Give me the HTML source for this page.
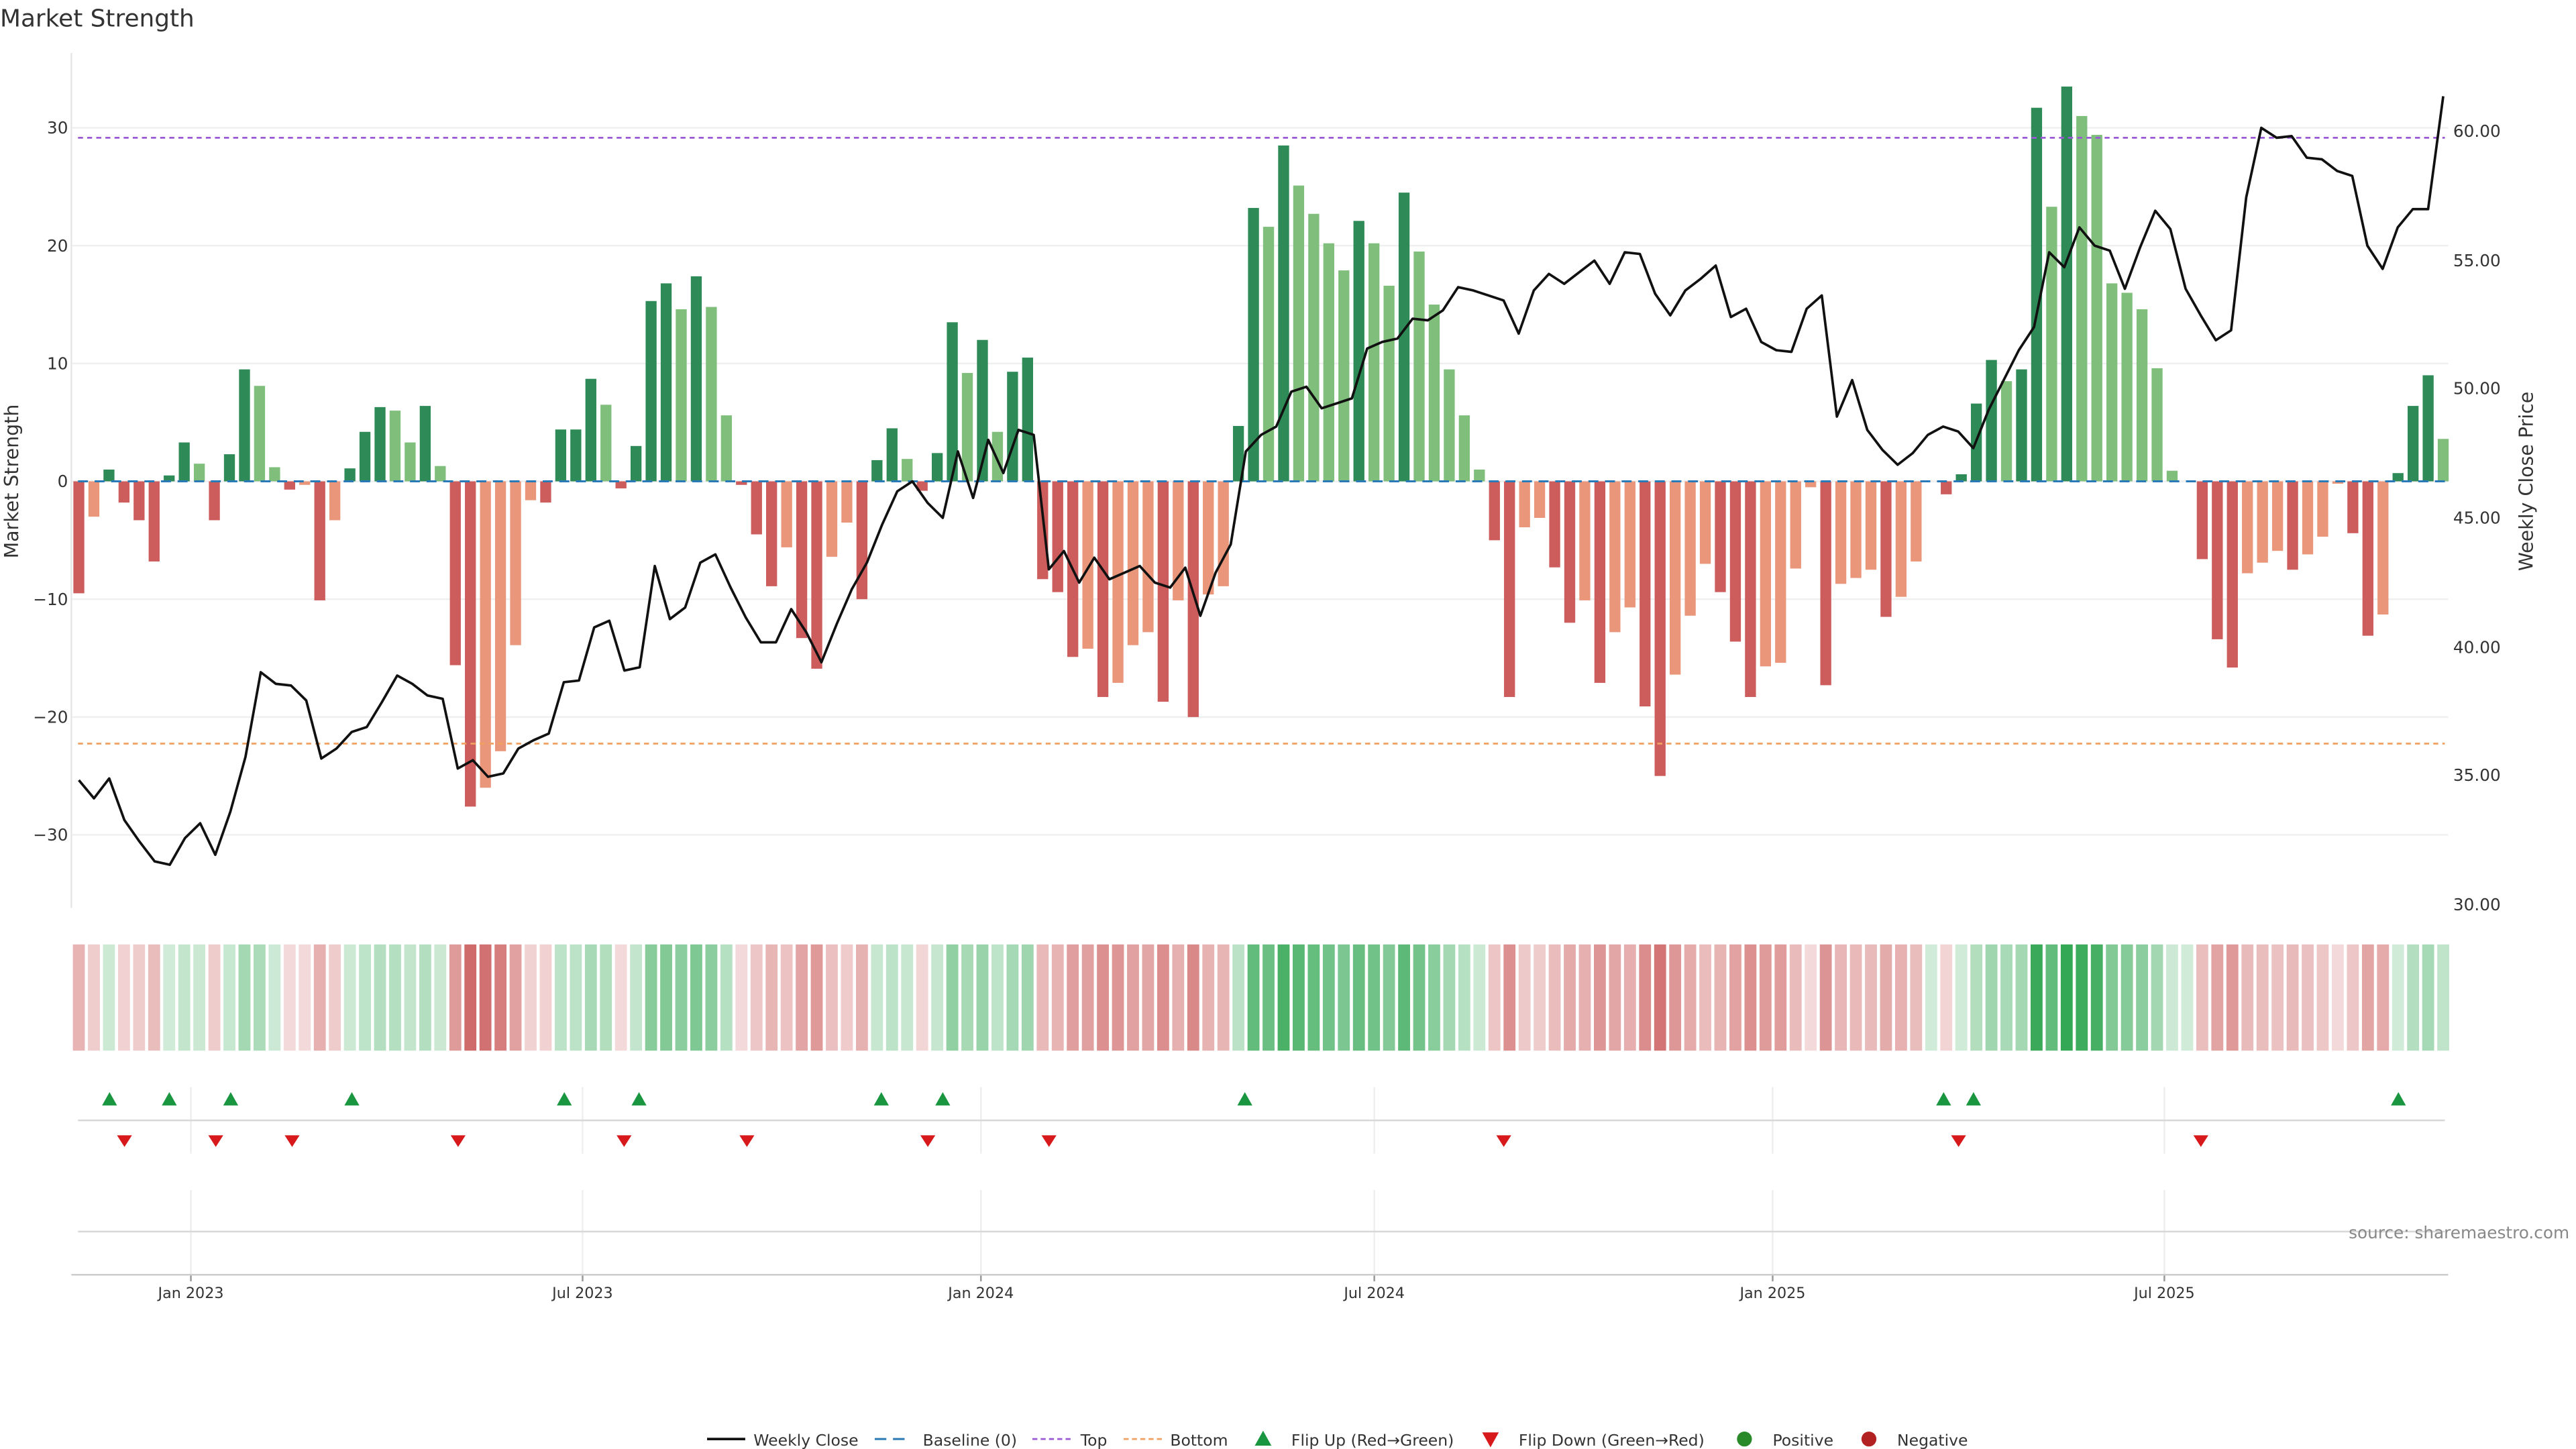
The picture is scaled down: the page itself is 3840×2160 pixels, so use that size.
<!DOCTYPE html>
<html><head><meta charset="utf-8"><style>
html,body{margin:0;padding:0;background:#fff;width:3840px;height:2160px;overflow:hidden}
svg{display:block}
text{font-family:"DejaVu Sans","Liberation Sans",sans-serif}
</style></head><body>
<svg id="s" width="3840" height="2160" viewBox="0 0 1552 873" xmlns="http://www.w3.org/2000/svg">
<rect width="1552" height="873" fill="#fff"/>
<text x="0" y="16" font-size="14.5" fill="#333">Market Strength</text>
<g id="grid"></g>
<line x1="43" y1="32" x2="43" y2="547" stroke="#e6e6e6" stroke-width="1"/>
<g id="bars"></g>
<line x1="47" y1="290" x2="1473" y2="290" stroke="#2a7ab8" stroke-width="1.2" stroke-dasharray="6,4"/>
<line x1="47" y1="83" x2="1473" y2="83" stroke="#9b59d6" stroke-width="1.1" stroke-dasharray="3,2.5"/>
<line x1="47" y1="448" x2="1473" y2="448" stroke="#f0a060" stroke-width="1.1" stroke-dasharray="3,2.5"/>
<polyline id="price" fill="none" stroke="#111" stroke-width="1.5" stroke-linejoin="round"/>
<g id="ticks" font-size="10" fill="#333"></g>
<text transform="translate(11,290) rotate(-90)" text-anchor="middle" font-size="11.5" fill="#333">Market Strength</text>
<text transform="translate(1526,290) rotate(-90)" text-anchor="middle" font-size="11.5" fill="#333">Weekly Close Price</text>
<g id="heat"></g>
<g id="mk"></g>
<line x1="47" y1="675" x2="1473" y2="675" stroke="#d8d8d8" stroke-width="1"/>
<line x1="47" y1="742" x2="1473" y2="742" stroke="#d8d8d8" stroke-width="1"/>
<line x1="43" y1="768" x2="1475" y2="768" stroke="#ccc" stroke-width="1"/>
<text x="1548" y="746" text-anchor="end" font-size="10" fill="#888">source: sharemaestro.com</text>
<g font-size="9.5" fill="#333" id="legend">
<line x1="426" y1="867" x2="449" y2="867" stroke="#111" stroke-width="1.5"/>
<text x="454" y="871">Weekly Close</text>
<line x1="527" y1="867" x2="549" y2="867" stroke="#2a7ab8" stroke-width="1.2" stroke-dasharray="7,4"/>
<text x="556" y="871">Baseline (0)</text>
<line x1="622" y1="867" x2="645" y2="867" stroke="#9b59d6" stroke-width="1.1" stroke-dasharray="3,2"/>
<text x="651" y="871">Top</text>
<line x1="677" y1="867" x2="700" y2="867" stroke="#f0a060" stroke-width="1.1" stroke-dasharray="3,2"/>
<text x="705" y="871">Bottom</text>
<polygon points="756,871 766,871 761,862" fill="#1a9641"/>
<text x="778" y="871">Flip Up (Red→Green)</text>
<polygon points="893,863 903,863 898,872" fill="#d7191c"/>
<text x="915" y="871">Flip Down (Green→Red)</text>
<circle cx="1051" cy="867" r="4.5" fill="#2a8a2a"/>
<text x="1068" y="871">Positive</text>
<circle cx="1126" cy="867" r="4.5" fill="#b22222"/>
<text x="1143" y="871">Negative</text>
</g>
</svg>
<script>
var NS="http://www.w3.org/2000/svg";
function el(p,t,a,txt){var e=document.createElementNS(NS,t);for(var k in a)e.setAttribute(k,a[k]);if(txt!=null)e.textContent=txt;document.getElementById(p).appendChild(e);return e;}
var B="-9.5R -3O 1D -1.8R -3.3R -6.8R 0.5D 3.3D 1.5L -3.3R 2.3D 9.5D 8.1L 1.2L -0.7R -0.3O -10.1R -3.3O 1.1D 4.2D 6.3D 6L 3.3L 6.4D 1.3L -15.6R -27.6R -26O -22.9O -13.9O -1.6O -1.8R 4.4D 4.4D 8.7D 6.5L -0.6R 3D 15.3D 16.8D 14.6L 17.4D 14.8L 5.6L -0.3R -4.5R -8.9R -5.6O -13.3R -15.9R -6.4O -3.5O -10R 1.8D 4.5D 1.9L -0.8R 2.4D 13.5D 9.2L 12D 4.2L 9.3D 10.5D -8.3R -9.4R -14.9R -14.2O -18.3R -17.1O -13.9O -12.8O -18.7R -10.1O -20R -9.6O -8.9O 4.7D 23.2D 21.6L 28.5D 25.1L 22.7L 20.2L 17.9L 22.1D 20.2L 16.6L 24.5D 19.5L 15L 9.5L 5.6L 1L -5R -18.3R -3.9O -3.1O -7.3R -12R -10.1O -17.1R -12.8O -10.7O -19.1R -25R -16.4O -11.4O -7O -9.4R -13.6R -18.3R -15.7O -15.4O -7.4O -0.5O -17.3R -8.7O -8.2O -7.5O -11.5R -9.8O -6.8O 0O -1.1R 0.6D 6.6D 10.3D 8.5L 9.5D 31.7D 23.3L 33.5D 31L 29.4L 16.8L 16L 14.6L 9.6L 0.9L 0D -6.6R -13.4R -15.8R -7.8O -6.9O -5.9O -7.5R -6.2O -4.7O -0.2O -4.4R -13.1R -11.3O 0.7D 6.4D 9D 3.6L".split(" ");
var col={D:"#2e8b57",L:"#7fbf7b",R:"#cd5c5c",O:"#e9967a"};
var n=B.length,x0=47.5,x1=1472,st=(x1-x0)/(n-1);
for(var i=0;i<n;i++){var v=parseFloat(B[i]),c=B[i].slice(-1),x=x0+i*st;
 var y=290-v*7.1,h=Math.abs(v*7.1);
 if(h>0.3)el("bars","rect",{x:x-3.3,y:Math.min(y,290),width:6.6,height:h,fill:col[c]});
 var a=0.22+Math.min(Math.abs(v),33)/33*0.75;
 var fc=v>=0?"rgba(46,165,80,"+a+")":"rgba(200,80,80,"+a+")";
 if(Math.abs(v)<0.8)fc=v>=0?"rgba(46,165,80,0.22)":"rgba(200,80,80,0.22)";
 el("heat","rect",{x:x-3.6,y:569,width:7.2,height:64,fill:fc});
}
var P=[470,481,469,494,507,519,521,505,496,515,489,456,405,412,413,422,457,451,441,438,423,407,412,419,421,463,458,468,466,451,446,442,411,410,378,374,404,402,341,373,366,339,334,354,372,387,387,367,381,399,376,355,339,316,296,290,303,312,272,300,265,285,259,262,343,332,351,336,349,345,341,351,354,342,371,345,328,272,262,257,236,233,246,243,240,210,206,204,192,193,187,173,175,178,181,201,175,165,171,164,157,171,152,153,177,190,175,168,160,191,186,206,211,212,186,178,251,229,259,271,280,273,262,257,260,270,247,229,211,197,152,161,137,148,151,174,149,127,138,174,190,205,199,119,77,83,82,95,96,103,106,148,162,137,126,126,58];
var m=P.length,ps=(x1-x0)/(m-1),pts=[];
for(var j=0;j<m;j++)pts.push((x0+j*ps).toFixed(1)+","+P[j]);
document.getElementById("price").setAttribute("points",pts.join(" "));
// grid + ticks
var L=[[30,77],[20,148],[10,219],[0,290],[-10,361],[-20,432],[-30,503]];
L.forEach(function(t){el("grid","line",{x1:43,y1:t[1],x2:1475,y2:t[1],stroke:"#efefef","stroke-width":1});
 el("ticks","text",{x:41,y:t[1]+3.5,"text-anchor":"end"},(t[0]<0?"\u2212"+(-t[0]):""+t[0]));});
[[60,79],[55,157],[50,234],[45,312],[40,390],[35,467],[30,545]].forEach(function(t){
 el("ticks","text",{x:1478,y:t[1]+3.5},t[0].toFixed(2));});
var D=[["Jan 2023",115],["Jul 2023",351],["Jan 2024",591],["Jul 2024",828],["Jan 2025",1068],["Jul 2025",1304]];
D.forEach(function(d){
 el("grid","line",{x1:d[1],y1:655,x2:d[1],y2:695,stroke:"#eee","stroke-width":1});
 el("grid","line",{x1:d[1],y1:717,x2:d[1],y2:768,stroke:"#eee","stroke-width":1});
 el("grid","line",{x1:d[1],y1:768,x2:d[1],y2:772,stroke:"#999","stroke-width":1});
 el("ticks","text",{x:d[1],y:782,"text-anchor":"middle","font-size":"9"},d[0]);});
[66,102,139,212,340,385,531,568,750,1171,1189,1445].forEach(function(x){
 el("mk","polygon",{points:(x-4.5)+",666 "+(x+4.5)+",666 "+x+",658",fill:"#1a9641"});});
[75,130,176,276,376,450,559,632,906,1180,1326].forEach(function(x){
 el("mk","polygon",{points:(x-4.5)+",684 "+(x+4.5)+",684 "+x+",691",fill:"#d7191c"});});
</script>
</body></html>
